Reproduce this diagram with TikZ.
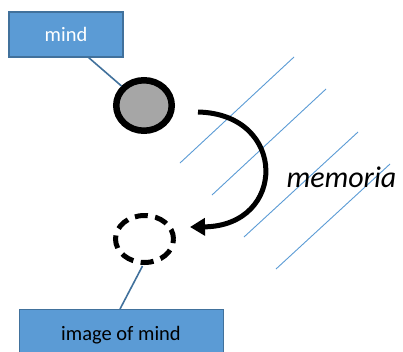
\documentclass[tikz,border=0pt]{standalone}
\usepackage{fontspec}
\setmainfont{Carlito}
\usetikzlibrary{arrows.meta,shapes.geometric}
\definecolor{boxblue}{HTML}{5B9BD5}
\definecolor{boxedge}{HTML}{41719C}
\definecolor{hatch}{HTML}{5B9BD5}
\definecolor{ballgray}{HTML}{A6A6A6}
\tikzset{
  labelbox/.style={draw=boxedge, line width=1.2pt, fill=boxblue, inner sep=0pt, font=\fontsize{20.5}{24}\selectfont},
  link/.style={draw=boxedge, line width=1.6pt},
  ball/.style={ellipse, draw=black, inner sep=0pt},
  hatchline/.style={draw=hatch, line width=0.9pt},
}
\begin{document}
\begin{tikzpicture}[x=1pt,y=-1pt]
\useasboundingbox (0,0) rectangle (403,351);
\clip (0,0) rectangle (403,351);
% hatch lines
\draw[hatchline] (180,163) -- (294,57);
\draw[hatchline] (212,195) -- (326,89);
\draw[hatchline] (244,237) -- (358,132);
\draw[hatchline] (276,269) -- (390,164);
% boxes
\node[labelbox, minimum width=114pt, minimum height=45pt, text=white] (mind) at (66,34.5) {mind};
\node[labelbox, minimum width=204pt, minimum height=50pt, text=black, anchor=north west] (img) at (19,309) {};
\node[text=black, font=\fontsize{20.5}{24}\selectfont] (imgtxt) at (121,335) {image of mind};
% circles
\node[ball, fill=ballgray, line width=6.5pt, minimum width=55.5pt, minimum height=50.5pt] (c1) at (144,105.5) {};
\node[ball, line width=5pt, dash pattern=on 13pt off 7.5pt, dash phase=3pt, minimum width=58pt, minimum height=47pt] (c2) at (144.5,239) {};
% connectors
\draw[link] (88,57) -- (c1);
\path (c2.south) ++(-2,1) coordinate (c2b);
\draw[link] (c2b) -- (120,309) coordinate (imgtop);
% arrow
\coordinate (as) at (198,112);
\coordinate (ae) at (190,227);
\draw[line width=5pt, -{Triangle[length=15pt,width=17pt]}] (as) .. controls (288,114) and (287,226) .. (ae);
% label
\node[font=\fontsize{30}{34}\selectfont\itshape, anchor=west] (mem) at (283,177) {memoria};
\end{tikzpicture}
\end{document}
